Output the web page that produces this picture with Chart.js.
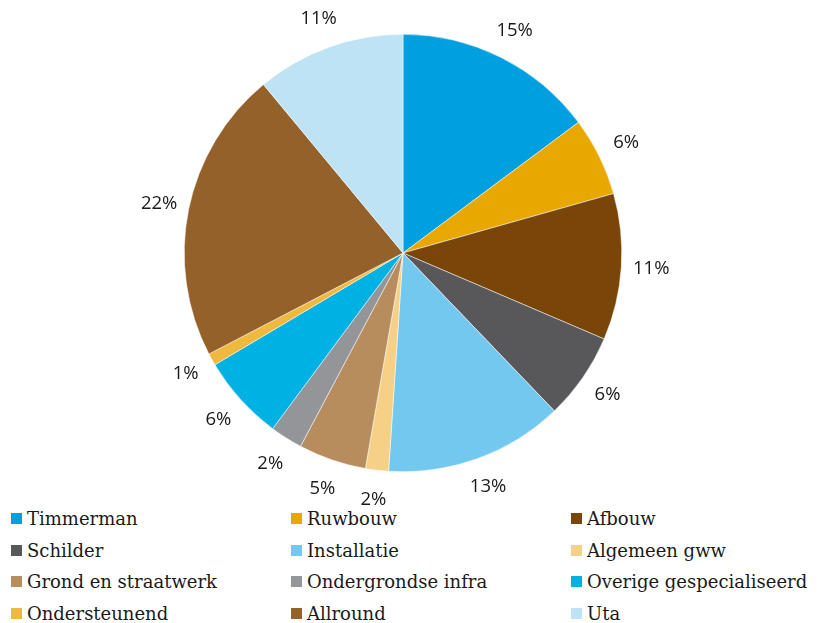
<!DOCTYPE html>
<html>
<head>
<meta charset="utf-8">
<script src="https://cdn.jsdelivr.net/npm/chart.js@4/dist/chart.umd.min.js"></script>
<style>
  html, body { margin: 0; padding: 0; background: #fff; }
  #wrap { position: relative; width: 820px; height: 623px; }
  #chart { position: absolute; left: 0; top: 0; }
  #legend { position: absolute; left: 0; top: 506px; width: 820px; }
  .item { position: absolute; font-family: "DejaVu Serif", serif; font-size: 18px; color: #1a1a1a; white-space: nowrap; line-height: 20px; }
  .box { display: inline-block; width: 11px; height: 11px; margin-right: 5px; vertical-align: 1px; }
</style>
</head>
<body>
<div id="wrap">
  <canvas id="chart" width="820" height="506"></canvas>
  <div id="legend"></div>
</div>
<script>
const categories = ['Timmerman', 'Ruwbouw', 'Afbouw', 'Schilder', 'Installatie', 'Algemeen gww',
  'Grond en straatwerk', 'Ondergrondse infra', 'Overige gespecialiseerd', 'Ondersteunend', 'Allround', 'Uta'];
const shares = [14.8, 5.8, 10.8, 6.4, 13.2, 1.7, 5.0, 2.4, 6.3, 0.9, 21.6, 11.0];
const colors = ['#009fe0', '#e8a800', '#7a4509', '#58585a', '#72c8ee', '#f5d086',
  '#b88d5e', '#939598', '#00b1e4', '#f0b83c', '#936129', '#bde3f5'];

// percentage labels outside the slices
const outsideLabels = {
  id: 'outsideLabels',
  afterDatasetsDraw(chart) {
    const ctx = chart.ctx;
    const meta = chart.getDatasetMeta(0);
    ctx.save();
    ctx.font = '18.5px "Open Sans", sans-serif';
    ctx.fillStyle = '#1a1a1a';
    ctx.textAlign = 'center';
    ctx.textBaseline = 'middle';
    meta.data.forEach((arc, i) => {
      const mid = (arc.startAngle + arc.endAngle) / 2;
      const r = arc.outerRadius + 30;
      const x = arc.x + Math.cos(mid) * r;
      const y = arc.y + Math.sin(mid) * r;
      ctx.fillText(Math.round(shares[i]) + '%', x, y);
    });
    ctx.restore();
  }
};

new Chart(document.getElementById('chart').getContext('2d'), {
  type: 'pie',
  data: {
    labels: categories,
    datasets: [{
      data: shares,
      backgroundColor: colors,
      borderColor: '#ffffff',
      borderWidth: 0.5
    }]
  },
  options: {
    responsive: false,
    animation: false,
    layout: { padding: { top: 34, bottom: 34, left: 0, right: 14 } },
    plugins: { legend: { display: false }, tooltip: { enabled: false } }
  },
  plugins: [outsideLabels]
});

// legend in three columns
const legend = document.getElementById('legend');
categories.forEach((name, i) => {
  const el = document.createElement('div');
  el.className = 'item';
  el.style.left = (11 + (i % 3) * 280) + 'px';
  el.style.top = (3 + Math.floor(i / 3) * 31.5) + 'px';
  el.innerHTML = '<span class="box" style="background:' + colors[i] + '"></span>' + name;
  legend.appendChild(el);
});
</script>
</body>
</html>
